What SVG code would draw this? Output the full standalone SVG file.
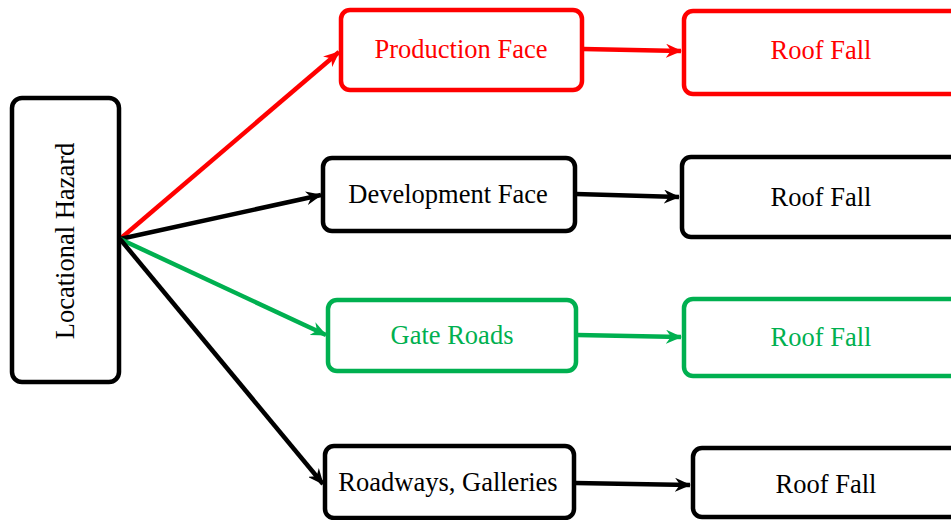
<svg xmlns="http://www.w3.org/2000/svg" width="951" height="520" viewBox="0 0 951 520">
  <style>
    .box { fill: #ffffff; stroke-width: 4.5; }
    .k { stroke: #000000; }
    .r { stroke: #ff0000; }
    .g { stroke: #00b050; }
    .lbl { font-family: "Liberation Serif", "Times New Roman", serif; font-size: 26.5px; text-anchor: middle; }
    .tk { fill: #000000; }
    .tr { fill: #ff0000; }
    .tg { fill: #00b050; }
    .edge { fill: none; stroke-width: 4.5; }
  </style>
  <defs>
    <marker id="ahK" markerUnits="userSpaceOnUse" markerWidth="16" markerHeight="14" refX="15" refY="7" orient="auto">
      <path d="M0,0 L16,7 L0,14 L5,7 z" fill="#000000"/>
    </marker>
    <marker id="ahR" markerUnits="userSpaceOnUse" markerWidth="16" markerHeight="14" refX="15" refY="7" orient="auto">
      <path d="M0,0 L16,7 L0,14 L5,7 z" fill="#ff0000"/>
    </marker>
    <marker id="ahG" markerUnits="userSpaceOnUse" markerWidth="16" markerHeight="14" refX="15" refY="7" orient="auto">
      <path d="M0,0 L16,7 L0,14 L5,7 z" fill="#00b050"/>
    </marker>
  </defs>
  <rect width="951" height="520" fill="#ffffff"/>

  <g id="connectors">
    <line class="edge r" x1="120" y1="239" x2="339" y2="52" marker-end="url(#ahR)"/>
    <line class="edge k" x1="120" y1="239" x2="321" y2="195" marker-end="url(#ahK)"/>
    <line class="edge g" x1="120" y1="239" x2="326" y2="335" marker-end="url(#ahG)"/>
    <line class="edge k" x1="120" y1="239" x2="323" y2="484" marker-end="url(#ahK)"/>
    <line class="edge r" x1="583" y1="49" x2="681" y2="51" marker-end="url(#ahR)"/>
    <line class="edge k" x1="576" y1="194" x2="679" y2="197" marker-end="url(#ahK)"/>
    <line class="edge g" x1="577" y1="335" x2="681" y2="337" marker-end="url(#ahG)"/>
    <line class="edge k" x1="575" y1="483" x2="690" y2="485" marker-end="url(#ahK)"/>
  </g>

  <g id="locational-hazard">
    <rect class="box k" x="12" y="98" width="107" height="284" rx="10"/>
    <text class="lbl tk" transform="translate(74,241) rotate(-90)" x="0" y="0">Locational Hazard</text>
  </g>

  <g id="production-face">
    <rect class="box r" x="341" y="10" width="241" height="80" rx="9"/>
    <text class="lbl tr" x="461" y="58">Production Face</text>
  </g>
  <g id="development-face">
    <rect class="box k" x="323" y="158" width="252" height="73" rx="9"/>
    <text class="lbl tk" x="448" y="203">Development Face</text>
  </g>
  <g id="gate-roads">
    <rect class="box g" x="328" y="300" width="248" height="71" rx="9"/>
    <text class="lbl tg" x="452" y="344">Gate Roads</text>
  </g>
  <g id="roadways-galleries">
    <rect class="box k" x="325" y="446" width="249" height="72" rx="9"/>
    <text class="lbl tk" x="448" y="491">Roadways, Galleries</text>
  </g>

  <g id="roof-fall-1">
    <rect class="box r" x="684" y="11" width="300" height="83" rx="9"/>
    <text class="lbl tr" x="821" y="59">Roof Fall</text>
  </g>
  <g id="roof-fall-2">
    <rect class="box k" x="682" y="157" width="300" height="80" rx="9"/>
    <text class="lbl tk" x="821" y="206">Roof Fall</text>
  </g>
  <g id="roof-fall-3">
    <rect class="box g" x="684" y="299" width="300" height="77" rx="9"/>
    <text class="lbl tg" x="821" y="346">Roof Fall</text>
  </g>
  <g id="roof-fall-4">
    <rect class="box k" x="693" y="448" width="300" height="69" rx="9"/>
    <text class="lbl tk" x="826" y="493">Roof Fall</text>
  </g>
</svg>
